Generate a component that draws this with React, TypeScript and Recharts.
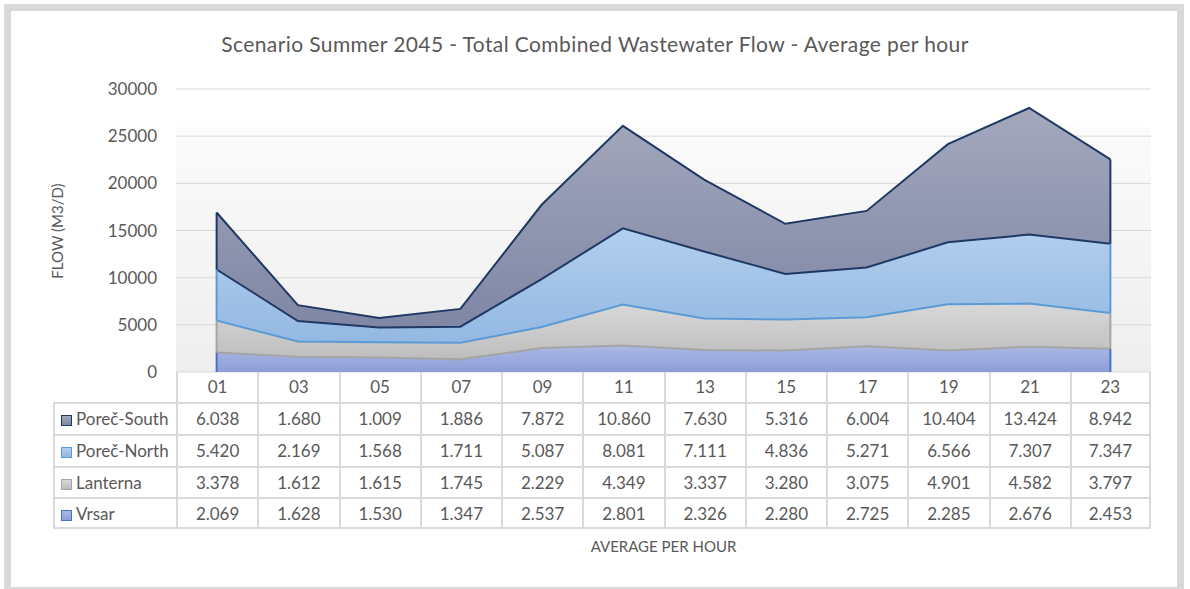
import {
  ComposedChart,
  Area,
  Line,
  XAxis,
  YAxis,
  CartesianGrid,
  ReferenceLine,
} from "recharts";

const hours = ["01", "03", "05", "07", "09", "11", "13", "15", "17", "19", "21", "23"];
const porecSouth = [6038, 1680, 1009, 1886, 7872, 10860, 7630, 5316, 6004, 10404, 13424, 8942];
const porecNorth = [5420, 2169, 1568, 1711, 5087, 8081, 7111, 4836, 5271, 6566, 7307, 7347];
const lanterna = [3378, 1612, 1615, 1745, 2229, 4349, 3337, 3280, 3075, 4901, 4582, 3797];
const vrsar = [2069, 1628, 1530, 1347, 2537, 2801, 2326, 2280, 2725, 2285, 2676, 2453];
const yTicks = [0, 5000, 10000, 15000, 20000, 25000, 30000];

const title = "Scenario Summer 2045 - Total Combined Wastewater Flow - Average per hour";
const yTitle = "FLOW (M3/D)";
const xTitle = "AVERAGE PER HOUR";

// bottom to top, same order as the stack
const series = [
  { key: "vrsar", name: "Vrsar", values: vrsar, stroke: "#4472c4", top: "#abb8e4", bottom: "#8d9ed7" },
  { key: "lanterna", name: "Lanterna", values: lanterna, stroke: "#a5a5a5", top: "#d8d8d8", bottom: "#bdbdbd" },
  { key: "north", name: "Poreč-North", values: porecNorth, stroke: "#5b9bd5", top: "#b2cfee", bottom: "#93b8e2" },
  { key: "south", name: "Poreč-South", values: porecSouth, stroke: "#203864", top: "#a4a8bd", bottom: "#7f87a5" },
];

// stacked rows, plus the running totals used for the outlines
const data = hours.map((hour, i) => {
  const row: Record<string, number | string> = { hour };
  let sum = 0;
  series.forEach((s, k) => {
    row[s.key] = s.values[i];
    row["base" + k] = sum;
    sum += s.values[i];
    row["cum" + k] = sum;
  });
  return row;
});

const fmt = (v: number) => {
  const s = String(v);
  return s.length > 3 ? s.slice(0, s.length - 3) + "." + s.slice(-3) : s;
};

const FONT = "Lato, 'Open Sans', sans-serif";
const TEXT = "#595959";
const GRID = "#d9d9d9";

const W = 1190;
const H = 589;
const PLOT_L = 176;
const PLOT_R = 1151;
const PLOT_T = 89;
const PLOT_B = 372;
const COL_W = (PLOT_R - PLOT_L) / hours.length;
const LEG_L = 53;
const ROW_Y = [372, 402, 434, 466, 497, 529];

// line colour seen on each boundary: the series above draws its outline over it
const edgeColor = (k: number) => (k + 1 < series.length ? series[k + 1].stroke : series[k].stroke);

export default function App() {
  const tableRows = [...series].reverse();
  return (
    <div
      style={{
        position: "absolute",
        left: 0,
        top: 0,
        width: W,
        height: H,
        background: "#fff",
        fontFamily: FONT,
        color: TEXT,
        overflow: "hidden",
      }}
    >
      <div
        style={{
          position: "absolute",
          left: 4,
          top: 4,
          width: 1180,
          height: 590,
          boxSizing: "border-box",
          border: "7px solid #d9d9d9",
        }}
      />
      <div
        style={{
          position: "absolute",
          left: 0,
          width: W,
          top: 31,
          textAlign: "center",
          fontSize: 21,
          letterSpacing: 0.4,
          lineHeight: "26px",
        }}
      >
        {title}
      </div>
      <div
        style={{
          position: "absolute",
          left: 57 - 100,
          top: 231 - 10,
          width: 200,
          height: 20,
          lineHeight: "20px",
          textAlign: "center",
          fontSize: 15,
          transform: "rotate(-90deg)",
        }}
      >
        {yTitle}
      </div>
      <div style={{ position: "absolute", left: 0, top: 0 }}>
        <ComposedChart
          width={W}
          height={H}
          data={data}
          margin={{ top: PLOT_T, right: W - PLOT_R, left: 0, bottom: H - PLOT_B }}
        >
          <defs>
            <linearGradient id="plotBg" x1="0" y1="0" x2="0" y2="1">
              <stop offset="0" stopColor="#ffffff" />
              <stop offset="0.13" stopColor="#ffffff" />
              <stop offset="0.14" stopColor="#fbfbfb" />
              <stop offset="1" stopColor="#eeeeee" />
            </linearGradient>
            {series.map((s) => (
              <linearGradient key={s.key} id={"g-" + s.key} x1="0" y1="0" x2="0" y2="1">
                <stop offset="0" stopColor={s.top} />
                <stop offset="1" stopColor={s.bottom} />
              </linearGradient>
            ))}
          </defs>
          <CartesianGrid vertical={false} stroke={GRID} fill="url(#plotBg)" />
          <XAxis dataKey="hour" hide padding={{ left: COL_W / 2, right: COL_W / 2 }} />
          <YAxis
            width={PLOT_L}
            domain={[0, 30000]}
            ticks={yTicks}
            axisLine={false}
            tickLine={false}
            tickSize={0}
            tickMargin={19}
            tick={{ fontSize: 17, fill: TEXT, fontFamily: FONT }}
          />
          {series.map((s) => (
            <Area
              key={s.key}
              type="linear"
              dataKey={s.key}
              stackId="flow"
              stroke="none"
              fill={"url(#g-" + s.key + ")"}
              fillOpacity={1}
              isAnimationActive={false}
            />
          ))}
          {series.map((s, k) => (
            <Line
              key={"l-" + s.key}
              type="linear"
              dataKey={"cum" + k}
              stroke={edgeColor(k)}
              strokeWidth={2}
              dot={false}
              activeDot={false}
              isAnimationActive={false}
            />
          ))}
          {series.map((s, k) =>
            [0, hours.length - 1].map((i) => (
              <ReferenceLine
                key={s.key + i}
                segment={[
                  { x: hours[i], y: data[i]["base" + k] as number },
                  { x: hours[i], y: data[i]["cum" + k] as number },
                ]}
                stroke={s.stroke}
                strokeWidth={2}
                ifOverflow="visible"
              />
            ))
          )}
        </ComposedChart>
      </div>

      {/* data table under the plot */}
      {hours.map((h, i) => (
        <div
          key={"h" + h}
          style={{
            position: "absolute",
            left: PLOT_L + i * COL_W,
            top: ROW_Y[0],
            width: COL_W,
            height: ROW_Y[1] - ROW_Y[0],
            boxSizing: "border-box",
            borderLeft: `2px solid ${GRID}`,
            borderRight: i === hours.length - 1 ? `2px solid ${GRID}` : "none",
            textAlign: "center",
            fontSize: 17,
            lineHeight: `${ROW_Y[1] - ROW_Y[0]}px`,
          }}
        >
          {h}
        </div>
      ))}
      {tableRows.map((s, r) => {
        const top = ROW_Y[r + 1];
        const hgt = ROW_Y[r + 2] - top;
        return (
          <div key={"r" + s.key}>
            <div
              style={{
                position: "absolute",
                left: LEG_L,
                top,
                width: PLOT_L - LEG_L,
                height: hgt,
                boxSizing: "border-box",
                border: `2px solid ${GRID}`,
                borderRight: "none",
                borderBottom: r === tableRows.length - 1 ? `2px solid ${GRID}` : "none",
                fontSize: 17,
                lineHeight: `${hgt - 2}px`,
                whiteSpace: "nowrap",
              }}
            >
              <span
                style={{
                  display: "inline-block",
                  width: 11,
                  height: 11,
                  marginLeft: 6,
                  marginRight: 4,
                  verticalAlign: "-1px",
                  boxSizing: "border-box",
                  border: `1.5px solid ${s.stroke}`,
                  background: `linear-gradient(${s.top}, ${s.bottom})`,
                }}
              />
              {s.name}
            </div>
            {s.values.map((v, i) => (
              <div
                key={s.key + i}
                style={{
                  position: "absolute",
                  left: PLOT_L + i * COL_W,
                  top,
                  width: COL_W,
                  height: hgt,
                  boxSizing: "border-box",
                  borderTop: `2px solid ${GRID}`,
                  borderLeft: `2px solid ${GRID}`,
                  borderRight: i === hours.length - 1 ? `2px solid ${GRID}` : "none",
                  borderBottom: r === tableRows.length - 1 ? `2px solid ${GRID}` : "none",
                  textAlign: "center",
                  fontSize: 17,
                  lineHeight: `${hgt - 2}px`,
                }}
              >
                {fmt(v)}
              </div>
            ))}
          </div>
        );
      })}
      <div
        style={{
          position: "absolute",
          left: PLOT_L,
          width: PLOT_R - PLOT_L,
          top: 536,
          textAlign: "center",
          fontSize: 15,
          lineHeight: "20px",
        }}
      >
        {xTitle}
      </div>
    </div>
  );
}
